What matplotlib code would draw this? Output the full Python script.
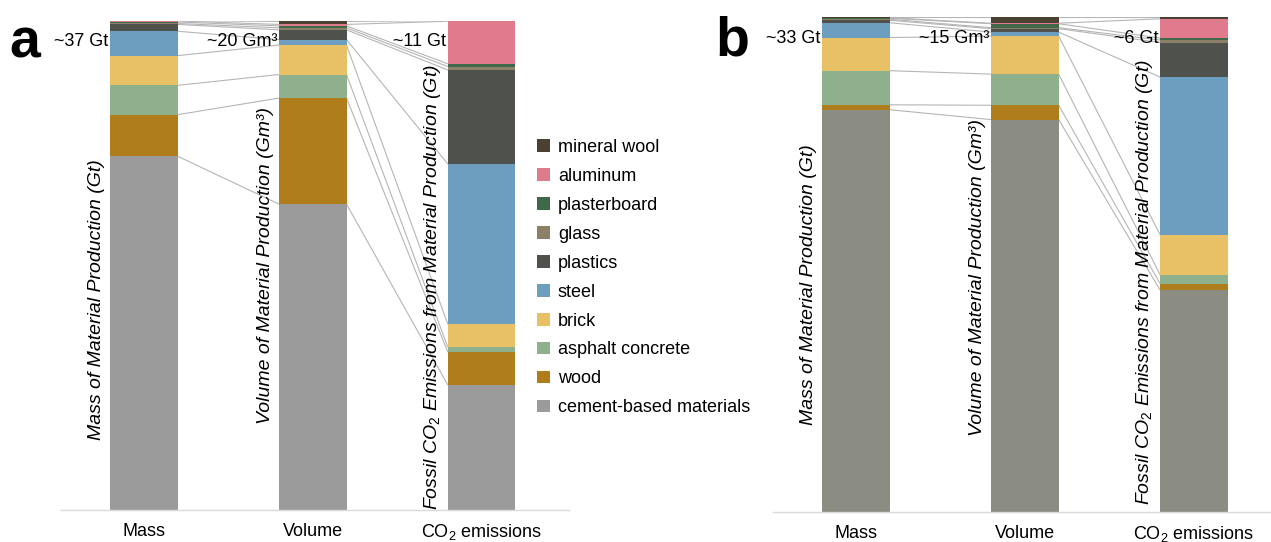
import matplotlib
matplotlib.use('Agg')
import matplotlib.pyplot as plt
from matplotlib.patches import Patch
import numpy as np

plt.rcParams['font.family'] = ['Liberation Sans', 'DejaVu Sans']
plt.rcParams['mathtext.fontset'] = 'custom'
plt.rcParams['mathtext.rm'] = 'Liberation Sans'
plt.rcParams['mathtext.it'] = 'Liberation Sans:italic'
plt.rcParams['mathtext.bf'] = 'Liberation Sans:bold'

# ---------------- data (shares, %, bottom -> top) ----------------
materials = ['cement-based materials', 'wood', 'asphalt concrete', 'brick', 'steel',
             'plastics', 'glass', 'plasterboard', 'aluminum', 'mineral wool']
categories = ['Mass', 'Volume', 'CO$_2$ emissions']

mass_a   = [72.5, 8.5, 6.0, 6.1, 5.0, 1.4, 0.2, 0.3, 0.2, 0.1]
volume_a = [62.3, 21.6, 4.8, 6.0, 1.1, 2.0, 0.4, 0.4, 0.3, 0.8]
co2_a    = [25.5, 6.7, 1.0, 4.7, 32.7, 19.2, 0.7, 0.55, 8.7, 0.15]

mass_b   = [81.4, 1.0, 6.9, 6.7, 3.0, 0.5, 0.2, 0.2, 0.1, 0.1]
volume_b = [79.4, 2.9, 6.3, 7.7, 0.8, 0.7, 0.2, 0.8, 0.1, 1.2]
co2_b    = [44.9, 1.3, 1.8, 8.1, 31.9, 7.0, 0.5, 0.4, 3.9, 0.3]

totals_a = ['~37 Gt', '~20 Gm³', '~11 Gt']
totals_b = ['~33 Gt', '~15 Gm³', '~6 Gt']

axis_titles = ['Mass of Material Production (Gt)',
               'Volume of Material Production (Gm³)',
               'Fossil CO$_2$ Emissions from Material Production (Gt)']

# ---------------- styles ----------------
colors = ['#9b9b9b', '#b07d1c', '#8fb08c', '#e8c066', '#6d9ec0',
          '#4f514c', '#8c8068', '#40694a', '#e07b8e', '#4b4132']
cement_b_color = '#8b8c82'
connector_color = '#b5b5b5'
bar_w = 0.40

W, H = 1271, 542
fig = plt.figure(figsize=(W / 100, H / 100), dpi=100)


def px_ax(x0, x1, ytop, ybot):
    return fig.add_axes([x0 / W, (H - ybot) / H, (x1 - x0) / W, (ybot - ytop) / H])


def draw_panel(ax, data, cols, totals, title_y, xlim):
    cums = []
    for i, series in enumerate(data):
        vals = np.array(series, dtype=float)
        vals = vals / vals.sum() * 100
        bottoms = np.concatenate([[0], np.cumsum(vals)[:-1]])
        ax.bar([i] * len(vals), vals, bottom=bottoms, width=bar_w,
               color=cols, linewidth=0, zorder=2)
        cums.append(np.cumsum(vals))
    for i in range(len(data) - 1):
        for k in range(len(materials)):
            ax.plot([i + bar_w / 2, i + 1 - bar_w / 2], [cums[i][k], cums[i + 1][k]],
                    color=connector_color, lw=0.8, zorder=1, solid_capstyle='butt')
    for i, t in enumerate(totals):
        ax.text(i - bar_w / 2 - 0.01, 95.8, t, ha='right', va='center', fontsize=13)
    for i, t in enumerate(axis_titles):
        ax.text(i - bar_w / 2 - 0.03, title_y[i], t, rotation=90, ha='right', va='center',
                fontsize=14, fontstyle='italic')
    ax.set_xlim(*xlim)
    ax.set_ylim(0, 100)
    ax.set_xticks(range(len(categories)))
    ax.set_xticklabels(categories, fontsize=13)
    ax.tick_params(axis='x', length=0, pad=9)
    ax.set_yticks([])
    for s in ['top', 'right', 'left']:
        ax.spines[s].set_visible(False)
    ax.spines['bottom'].set_color('#d9d9d9')
    ax.spines['bottom'].set_linewidth(1.0)
    ax.patch.set_alpha(0)


# panel a
ax_a = px_ax(61, 569, 20.5, 510)
draw_panel(ax_a, [mass_a, volume_a, co2_a], colors, totals_a,
           [43.0, 50.0, 45.5], (-0.49, 2.517))

# panel b
colors_b = [cement_b_color] + colors[1:]
ax_b = px_ax(773, 1271, 17.3, 512)
draw_panel(ax_b, [mass_b, volume_b, co2_b], colors_b, totals_b,
           [46.0, 47.5, 46.5], (-0.49, 2.456))

# legend (panel a)
handles = [Patch(facecolor=c, edgecolor='none') for c in colors][::-1]
labels = materials[::-1]
fig.legend(handles, labels, loc='upper left', bbox_to_anchor=(537 / W, (H - 139) / H),
           frameon=False, fontsize=13, handlelength=0.7, handleheight=0.7,
           handletextpad=0.45, labelspacing=0.66, borderpad=0, borderaxespad=0)

# panel letters
fig.text(9 / W, (H - 58) / H, 'a', fontsize=40, fontweight='bold', va='baseline', ha='left')
fig.text(715 / W, (H - 56) / H, 'b', fontsize=40, fontweight='bold', va='baseline', ha='left')

fig.savefig('out.png', dpi=100)
